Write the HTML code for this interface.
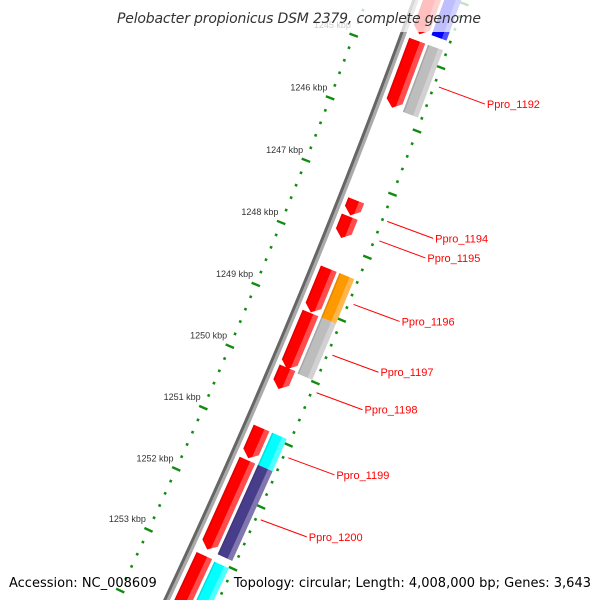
<!DOCTYPE html>
<html><head><meta charset="utf-8"><style>
html,body{margin:0;padding:0;background:#fff;width:600px;height:600px;overflow:hidden}
svg{display:block}
text{font-family:"Liberation Sans","DejaVu Sans",sans-serif}
</style></head><body>
<svg id="chart" width="600" height="600" viewBox="0 0 600 600" xmlns="http://www.w3.org/2000/svg" overflow="hidden">
<g id="rulers"></g>
<g id="backbone"></g>
<g id="genes"></g>
<g id="labels"></g>
<rect x="0" y="0" width="600" height="32" fill="#fff" opacity="0.75"/>
<text x="299" y="23" text-anchor="middle" font-size="14" font-style="italic" fill="#333" style="font-family:'DejaVu Sans','Liberation Sans',sans-serif" textLength="364">Pelobacter propionicus DSM 2379, complete genome</text>
<text x="9" y="587" font-size="13" fill="#000" style="font-family:'DejaVu Sans','Liberation Sans',sans-serif">Accession: NC_008609</text>
<text x="591" y="587" text-anchor="end" font-size="13" fill="#000" style="font-family:'DejaVu Sans','Liberation Sans',sans-serif">Topology: circular; Length: 4,008,000 bp; Genes: 3,643</text>
</svg>
<script>
// gene data (kbp)
var geneNames   = ["g-top-a","Ppro_1192","Ppro_1194","Ppro_1195","Ppro_1196","Ppro_1197","Ppro_1198","Ppro_1199","Ppro_1200","g-bottom-a"];
var geneStarts  = [1243.90,1244.75,1247.28,1247.54,1248.37,1249.08,1249.96,1250.93,1251.45,1253.00];
var geneEnds    = [1244.65,1245.81,1247.52,1247.88,1249.07,1249.98,1250.30,1251.42,1252.90,1254.20];
var track2Names = ["t2-top-blue","t2-1192","t2-1196","t2-1197","t2-1199","t2-1200","t2-bottom-cyan"];
var track2Starts= [1243.90,1244.75,1248.37,1249.08,1250.93,1251.45,1253.02];
var track2Ends  = [1244.60,1245.81,1249.08,1249.98,1251.45,1252.90,1254.20];
var track2Colors= ["#0000ff","#bdbdbd","#ff9900","#bdbdbd","#00ffff","#483d8b","#00ffff"];
var labelNames  = ["Ppro_1192","Ppro_1194","Ppro_1195","Ppro_1196","Ppro_1197","Ppro_1198","Ppro_1199","Ppro_1200"];
var tickKbp     = [1244,1245,1246,1247,1248,1249,1250,1251,1252,1253,1254];
var tickLabels  = ["","1245 kbp","1246 kbp","1247 kbp","1248 kbp","1249 kbp","1250 kbp","1251 kbp","1252 kbp","1253 kbp",""];

var NS="http://www.w3.org/2000/svg";
var CX=-6260, CY=-2418, R=7100, PHI0=Math.atan2(2718,6560);
function sOf(kbp){return 70+(kbp-1250)*67.4;}
function pos(r,s){var p=PHI0+s/R, rr=R+r;return [CX+rr*Math.cos(p), CY+rr*Math.sin(p)];}
function mk(tag,attrs,parent){var e=document.createElementNS(NS,tag);for(var k in attrs)e.setAttribute(k,attrs[k]);parent.appendChild(e);return e;}
function pts(a){return a.map(function(p){return p[0].toFixed(2)+","+p[1].toFixed(2);}).join(" ");}

// backbone
var bb=document.getElementById("backbone");
[[-1.6,"#666666"],[1.4,"#aaaaaa"]].forEach(function(d,i){
  var a=[];for(var s=-420;s<=420;s+=10)a.push(pos(d[0],s));
  var pl=mk("polyline",{points:pts(a),fill:"none",stroke:d[1],"stroke-width":3.2},bb);
  
  
});

// rulers
var ru=document.getElementById("rulers");
[-46,47].forEach(function(rad,side){
  for(var k=1243;k<=1255.001;k+=0.2){
    var kk=Math.round(k*10)/10, major=Math.abs(kk-Math.round(kk))<0.01;
    var s=sOf(kk), h=major?4.5:1.3;
    var a=pos(rad-h,s), b=pos(rad+h,s);
    var ln=mk("line",{x1:a[0],y1:a[1],x2:b[0],y2:b[1],stroke:"#118c11","stroke-width":major?2.4:2.6},ru);
    
    
  }
});
tickKbp.forEach(function(k,i){
  if(!tickLabels[i])return;
  var p=pos(-50,sOf(k));
  var t=mk("text",{x:p[0]+1,y:p[1]-6,"text-anchor":"end","font-size":9,fill:"#333"},ru);
  t.textContent=tickLabels[i];
  
  
});

// genes
var gg=document.getElementById("genes");
function drawGene(s1,s2,r1,r2,color,arrow,name){
  var g=mk("g",{},gg);
  
  
  var ah=arrow?Math.min(7,(s2-s1)*0.5):0, rm=(r1+r2)/2;
  var poly=[pos(r1,s1),pos(r2,s1),pos(r2,s2-ah),pos(rm,s2),pos(r1,s2-ah)];
  mk("polygon",{points:pts(poly),fill:color},g);
  var ro=r1+(r2-r1)*0.68;
  var hl=arrow?[pos(ro,s1),pos(r2,s1),pos(r2,s2-ah),pos(rm,s2),pos(ro,s2-ah*0.3)]:[pos(ro,s1),pos(r2,s1),pos(r2,s2),pos(ro,s2)];
  mk("polygon",{points:pts(hl),fill:"#fff",opacity:0.3},g);
  var sh=[pos(r1,s1),pos(r1+1.5,s1),pos(r1+1.5,s2-ah),pos(r1,s2-ah)];
  mk("polygon",{points:pts(sh),fill:"#000",opacity:0.12},g);
}
for(var i=0;i<geneNames.length;i++) drawGene(sOf(geneStarts[i]),sOf(geneEnds[i]),7,24,"#ff0000",true,geneNames[i]);
for(var j=0;j<track2Names.length;j++) drawGene(sOf(track2Starts[j]),sOf(track2Ends[j]),27,43,track2Colors[j],false,track2Names[j]);

// labels
var lg=document.getElementById("labels");
labelNames.forEach(function(n){
  var i=geneNames.indexOf(n);
  var mid=(sOf(geneStarts[i])+sOf(geneEnds[i]))/2;
  var p=pos(52,mid);
  var ln=mk("line",{x1:p[0],y1:p[1],x2:p[0]+46,y2:p[1]+17,stroke:"#ff0000","stroke-width":1},lg);
  
  
  var t=mk("text",{x:p[0]+48,y:p[1]+21,"font-size":11,fill:"#ff0000"},lg);
  t.textContent=n;
  
  
});
</script>
</body></html>
